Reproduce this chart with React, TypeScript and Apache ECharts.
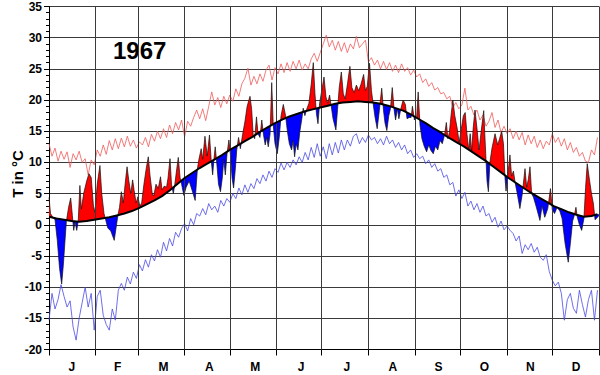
import React, { useEffect, useRef } from "react";
import * as echarts from "echarts";

const FONT = "'Liberation Sans', Arial, Helvetica, sans-serif";

const title = "1967";
const yName = "T in °C";
const monthLabels = ["J", "F", "M", "A", "M", "J", "J", "A", "S", "O", "N", "D"];
const monthStartDays = [0, 31, 59, 90, 120, 151, 181, 212, 243, 273, 304, 334, 365];
const yMin = -20;
const yMax = 35;
const yStep = 5;

// long-term daily mean (black line), read every 5 days
const normalDays = [0, 5, 10, 15, 20, 25, 30, 35, 40, 45, 50, 55, 60, 65, 70, 75, 80, 85, 90, 95,
  100, 105, 110, 115, 120, 125, 130, 135, 140, 145, 150, 155, 160, 165, 170, 175, 180, 185, 190, 195,
  200, 205, 210, 215, 220, 225, 230, 235, 240, 245, 250, 255, 260, 265, 270, 275, 280, 285, 290, 295,
  300, 305, 310, 315, 320, 325, 330, 335, 340, 345, 350, 355, 360, 364];
const normalTemp = [1.3, 1.0, 0.8, 0.6, 0.5, 0.6, 0.8, 1.0, 1.2, 1.5, 1.8, 2.2, 2.7, 3.3, 3.9, 4.6, 5.5, 6.5, 7.5, 8.3,
  9.1, 9.8, 10.5, 11.2, 12.0, 12.7, 13.4, 14.1, 14.9, 15.6, 16.3, 16.9, 17.4, 17.8, 18.2, 18.5, 18.8, 19.1, 19.4, 19.6,
  19.7, 19.8, 19.7, 19.6, 19.4, 19.1, 18.7, 18.3, 17.7, 17.0, 16.3, 15.5, 14.8, 14.0, 13.3, 12.6, 11.8, 11.0, 10.2, 9.3,
  8.4, 7.5, 6.7, 5.9, 5.1, 4.4, 3.7, 3.0, 2.5, 2.0, 1.6, 1.3, 1.4, 1.7];

// observed 1967 daily mean temperature, [day of year, °C]
const observed: [number, number][] = [
  [0, 4.4], [1, 1.8], [2.5, 1.2], [4, 0.8], [5.5, -2.5], [7, -7.0], [8.4, -9.5], [9.5, -6.5], [10.5, -3.0], [11.5, 0.5],
  [13, 2.8], [14.4, 4.3], [15.5, 1.5], [16.4, -0.9], [17.3, 0.5], [18.4, -0.9], [19.4, 0.6], [20.5, 6.3], [21.5, 2.5], [23, 5.0],
  [25, 7.0], [26.5, 8.2], [28, 7.6], [29.5, 3.0], [30.5, 2.0], [32, 6.5], [33.8, 9.5], [35, 5.0], [36.5, 1.8], [37.5, 0.9],
  [39, -0.5], [41, -1.0], [43.3, -2.5], [44.5, -0.5], [45.8, 1.6], [46.8, 2.8], [48, 5.3], [49.3, 3.5], [50.5, 6.5], [51.8, 9.3],
  [53, 7.0], [54.3, 5.0], [55.5, 7.2], [56.5, 5.5], [57.8, 3.5], [59, 4.5], [60.3, 3.0], [61.5, 3.5], [63, 6.5], [64.5, 9.0],
  [65.9, 10.9], [67, 8.0], [68.5, 5.0], [69.5, 4.6], [71, 6.5], [72.5, 5.8], [74, 7.7], [75, 5.6], [76.5, 6.2], [78, 6.0],
  [79, 7.5], [80.3, 10.6], [81.3, 6.5], [82.5, 5.0], [83.5, 6.5], [84.8, 9.0], [85.8, 10.8], [87, 7.5], [88, 6.5], [89.5, 4.7],
  [91, 6.0], [93, 7.0], [95, 5.5], [97, 3.9], [98.5, 9.0], [99.5, 10.5], [101, 12.2], [102, 10.5], [103.5, 14.2], [105, 11.0],
  [106.5, 14.4], [107.6, 10.5], [108.6, 8.0], [109.5, 10.6], [110.3, 12.5], [111.3, 10.0], [112.5, 6.5], [113.8, 5.3], [115, 7.5], [116, 10.5],
  [117, 8.0], [118.2, 11.5], [119.4, 13.6], [120.5, 11.0], [121.5, 7.5], [122.5, 5.9], [123.5, 8.5], [124.6, 12.0], [125.8, 14.0], [127, 12.2],
  [128.5, 14.5], [130, 16.5], [131.5, 19.0], [133.4, 20.6], [134.5, 18.5], [135.5, 14.4], [136.5, 13.8], [137.7, 17.3], [138.7, 14.6], [140, 14.0],
  [141.2, 16.8], [142.3, 14.5], [143.5, 12.8], [144.5, 14.0], [145.5, 12.5], [146.7, 14.5], [147.8, 22.8], [148.8, 16.0], [150, 13.0], [151.5, 11.4],
  [152.8, 14.0], [154, 17.5], [155.5, 19.3], [157, 17.5], [158.2, 15.0], [159.5, 13.0], [161, 12.0], [162, 13.5], [163, 10.9], [164, 13.0],
  [165.2, 12.0], [166.5, 15.0], [167.8, 17.0], [168.7, 18.7], [169.8, 17.5], [171, 18.5], [172.5, 19.5], [174, 22.5], [175.4, 26.0], [176.5, 21.0],
  [177.5, 17.8], [178.5, 16.2], [179.6, 19.5], [181, 21.5], [182.5, 23.7], [183.8, 20.5], [185, 19.5], [186.2, 20.8], [187.3, 19.0], [188.5, 17.0],
  [190.4, 15.2], [191.5, 18.5], [192.6, 22.0], [194, 24.5], [195.3, 21.0], [196.6, 20.2], [198.2, 22.8], [199.7, 25.4], [201, 22.0], [202.5, 21.2],
  [204, 22.4], [205.5, 21.5], [207, 22.5], [208.8, 24.1], [210, 21.5], [211.2, 22.2], [212.7, 25.9], [214, 21.5], [215, 19.6], [216.4, 17.2],
  [217.8, 15.4], [219.2, 18.3], [220.8, 21.9], [222, 18.3], [223, 16.3], [224.2, 15.1], [225.5, 17.5], [226.6, 18.6], [227.8, 22.0], [229, 18.5],
  [230, 16.8], [231.2, 18.6], [232.2, 17.0], [233.5, 18.6], [235, 20.0], [236.5, 19.3], [237.6, 17.0], [239, 17.2], [240.3, 17.2], [241.2, 19.0],
  [242.5, 16.8], [244, 17.3], [245, 21.3], [246.2, 16.0], [247.5, 13.8], [249, 12.6], [250.6, 11.7], [252, 12.8], [253.5, 11.9], [255, 11.4],
  [256.5, 12.6], [258, 12.0], [259.5, 13.5], [261, 13.0], [262.5, 14.4], [263.7, 16.4], [264.7, 13.8], [265.7, 14.8], [266.8, 17.5], [268, 20.0],
  [269.3, 17.5], [270.8, 15.6], [272.2, 13.2], [273.5, 15.2], [275, 17.5], [276.2, 18.0], [277.4, 14.5], [278.5, 12.0], [279.5, 14.6], [280.5, 11.8],
  [281.5, 15.5], [282.7, 18.4], [284, 15.5], [285.4, 12.0], [286.8, 15.0], [288.5, 18.3], [289.8, 11.5], [290.7, 7.0], [291.6, 5.3], [292.6, 10.0],
  [294, 12.3], [296, 14.6], [297.8, 12.8], [299, 13.8], [300.4, 15.0], [301.6, 13.0], [302.6, 7.6], [303.3, 5.4], [304.3, 7.6], [305.9, 11.2],
  [307, 7.8], [308.2, 8.6], [309.3, 6.8], [310.6, 5.2], [312.5, 2.6], [314, 4.8], [315.9, 9.0], [317, 6.0], [318.1, 7.3], [319.2, 9.3],
  [320.3, 5.0], [321.5, 4.4], [323.2, 3.0], [325.8, 0.7], [327.2, 3.0], [329, 1.2], [331, 2.6], [332.8, 5.8], [334, 2.4], [335.5, 1.8],
  [337.2, 2.8], [339, 2.2], [340.5, 1.0], [342.5, -3.0], [344.6, -6.0], [346, -3.0], [347.5, 0.6], [348.6, 1.5], [349.7, 2.8], [350.6, 1.2],
  [352, 0.0], [353.5, -0.9], [355, 1.0], [356.1, 6.0], [357.2, 9.8], [358.5, 7.5], [360, 5.0], [361.2, 3.5], [362.4, 0.8], [364, 1.2],
  [365, 1.5],
];

// thin red line (upper) and thin blue line (lower), one value every 2 days from day 0
const upperTemp = [
  13.0, 11.0, 12.3, 10.2, 11.8, 10.5, 11.7, 9.2, 11.4, 10.4,
  11.8, 10.0, 10.6, 8.0, 10.4, 9.6, 12.0, 11.0, 12.8, 11.3,
  13.5, 12.0, 13.8, 12.2, 13.9, 12.5, 14.2, 12.6, 13.6, 12.3,
  13.3, 12.8, 14.0, 12.5, 14.5, 13.4, 15.0, 13.8, 15.4, 14.0,
  16.0, 14.6, 16.4, 15.2, 16.8, 14.1, 16.6, 15.8, 17.2, 18.4,
  17.0, 18.6, 16.7, 19.0, 21.3, 19.2, 20.4, 18.8, 20.6, 19.4,
  20.8, 19.8, 21.8, 20.6, 22.6, 23.5, 25.1, 22.4, 23.8, 22.6,
  24.2, 23.0, 24.8, 25.6, 23.2, 25.2, 24.2, 25.8, 24.4, 26.0,
  24.6, 26.2, 25.0, 26.4, 24.8, 25.8, 25.0, 26.6, 27.5, 26.2,
  27.6, 29.0, 30.4, 28.5, 29.6, 28.0, 29.4, 27.8, 29.2, 27.6,
  29.0, 28.2, 30.2, 28.4, 29.0, 29.6, 26.1, 26.8, 25.6, 26.4,
  25.0, 26.2, 24.9, 26.0, 24.6, 25.6, 24.4, 25.8, 24.6, 25.2,
  24.0, 24.8, 23.7, 24.2, 22.8, 23.4, 22.2, 22.8, 21.6, 22.0,
  21.0, 21.2, 20.2, 20.6, 18.8, 19.6, 18.6, 19.2, 21.9, 18.4,
  19.0, 17.6, 18.4, 16.8, 17.6, 15.8, 16.6, 18.0, 15.6, 16.8,
  14.8, 15.8, 14.6, 15.4, 13.8, 15.0, 13.6, 14.8, 12.8, 14.4,
  13.0, 14.2, 12.4, 13.6, 12.2, 13.4, 12.8, 14.6, 13.2, 14.0,
  12.6, 13.8, 12.0, 13.2, 11.6, 12.4, 11.0, 11.6, 10.2, 10.0,
  12.0, 11.2, 14.0,
];
const lowerTemp = [
  -15.3, -11.0, -13.5, -12.0, -9.6, -11.5, -13.2, -12.2, -16.4, -18.5,
  -15.0, -12.5, -10.0, -13.2, -11.0, -16.9, -11.5, -10.5, -14.5, -16.0,
  -16.9, -13.5, -15.3, -10.5, -9.4, -10.5, -8.4, -9.5, -7.6, -8.6,
  -6.4, -7.4, -5.6, -6.8, -4.8, -5.8, -4.0, -5.2, -2.8, -4.2,
  -2.2, -3.4, -1.2, -2.0, -0.6, 0.2, -1.0, 1.0, 0.0, 1.8,
  1.4, 2.6, 1.6, 3.4, 2.4, 3.0, 2.0, 3.9, 3.0, 4.2,
  3.6, 5.0, 4.2, 5.9, 4.8, 6.4, 5.2, 6.6, 5.8, 7.4,
  6.6, 8.0, 7.0, 8.6, 7.6, 9.0, 8.4, 9.9, 8.8, 10.0,
  9.2, 10.4, 9.6, 10.9, 10.0, 11.6, 10.4, 12.4, 10.8, 13.0,
  11.0, 12.5, 10.6, 13.0, 11.2, 13.2, 11.5, 13.6, 12.0, 13.6,
  12.6, 14.2, 14.6, 13.0, 14.0, 13.2, 14.4, 13.6, 14.0, 13.0,
  13.8, 12.8, 14.2, 13.0, 13.6, 12.4, 13.2, 12.0, 12.8, 11.4,
  12.0, 10.8, 11.4, 10.6, 11.0, 9.8, 10.4, 9.2, 9.8, 8.6,
  9.0, 7.6, 8.0, 6.4, 6.8, 4.6, 5.6, 4.2, 5.2, 3.0,
  3.8, 2.4, 3.4, 2.0, 3.0, 1.4, 1.8, 0.4, 1.2, -0.4,
  0.6, -0.8, -0.2, -0.9, -1.4, -2.6, -1.8, -4.6, -3.2, -4.0,
  -3.0, -4.4, -3.6, -5.2, -5.7, -4.8, -7.5, -8.9, -9.8, -9.2,
  -11.0, -15.3, -12.0, -11.0, -13.4, -14.2, -10.5, -12.8, -14.8, -12.0,
  -10.5, -15.3, -10.5,
];
const extremeStep = 2;

function interp(xs: number[], ys: number[], x: number): number {
  const n = xs.length;
  if (x <= xs[0]) return ys[0];
  if (x >= xs[n - 1]) return ys[n - 1];
  let lo = 0;
  let hi = n - 1;
  while (hi - lo > 1) {
    const m = (lo + hi) >> 1;
    if (xs[m] <= x) lo = m;
    else hi = m;
  }
  const t = (x - xs[lo]) / (xs[hi] - xs[lo]);
  return ys[lo] + t * (ys[hi] - ys[lo]);
}

type P = { x: number; a: number; n: number };
type Run = { sign: number; pts: P[] };

function buildRuns(): Run[] {
  const ox = observed.map((p) => p[0]);
  const oy = observed.map((p) => p[1]);
  const xs = Array.from(new Set([...ox, ...normalDays])).sort((a, b) => a - b);
  const pts: P[] = xs.map((x) => ({ x, a: interp(ox, oy, x), n: interp(normalDays, normalTemp, x) }));
  const runs: Run[] = [];
  let cur: Run | null = null;
  for (let i = 0; i < pts.length; i++) {
    const p = pts[i];
    const d = p.a - p.n;
    const s = d >= 0 ? 1 : -1;
    if (!cur) {
      cur = { sign: s, pts: [p] };
      continue;
    }
    if (s !== cur.sign) {
      const q = pts[i - 1];
      const dq = q.a - q.n;
      const t = dq / (dq - d);
      const cx = q.x + t * (p.x - q.x);
      const cy = q.n + t * (p.n - q.n);
      const c = { x: cx, a: cy, n: cy };
      cur.pts.push(c);
      runs.push(cur);
      cur = { sign: s, pts: [c, p] };
    } else {
      cur.pts.push(p);
    }
  }
  if (cur) runs.push(cur);
  return runs;
}

export default function App() {
  const ref = useRef<HTMLDivElement>(null);
  useEffect(() => {
    if (!ref.current) return;
    const chart = echarts.init(ref.current, null, { renderer: "svg" });
    const runs = buildRuns();
    const gridColor = "#3a3a3a";
    chart.setOption({
      animation: false,
      backgroundColor: "#ffffff",
      grid: { left: 49, right: 1, top: 6.5, bottom: 25.5, containLabel: false },
      xAxis: [
        {
          type: "value",
          min: 0,
          max: 365,
          axisLine: { show: true, onZero: false, lineStyle: { color: "#000", width: 1 } },
          axisTick: { show: true, customValues: monthStartDays, length: 6, lineStyle: { color: "#000" } },
          axisLabel: { show: false },
          splitLine: { show: false },
        },
        {
          type: "category",
          data: monthLabels.map((m, i) => m + i),
          position: "bottom",
          boundaryGap: true,
          axisLine: { show: false },
          axisTick: { show: false },
          splitLine: { show: false },
          axisLabel: {
            interval: 0,
            margin: 11,
            color: "#000",
            fontSize: 12,
            fontWeight: "bold",
            fontFamily: FONT,
            formatter: (_v: string, idx: number) => monthLabels[idx],
          },
        },
      ],
      yAxis: {
        type: "value",
        min: yMin,
        max: yMax,
        interval: yStep,
        axisLine: { show: true, onZero: false, lineStyle: { color: "#000", width: 1 } },
        axisTick: { show: true, length: 5, lineStyle: { color: "#000" } },
        minorTick: { show: true, splitNumber: 5, length: 3, lineStyle: { color: "#000" } },
        minorSplitLine: { show: false },
        axisLabel: { margin: 7, color: "#000", fontSize: 12, fontWeight: "bold", fontFamily: FONT },
        splitLine: { show: true, lineStyle: { color: gridColor, width: 1 } },
      },
      graphic: [
        {
          type: "text",
          left: 113,
          top: 38,
          style: { text: title, font: `bold 24px ${FONT}`, fill: "#000" },
        },
        {
          type: "text",
          x: 17,
          y: 174,
          rotation: Math.PI / 2,
          style: { text: yName, font: `bold 15px ${FONT}`, fill: "#000", align: "center", verticalAlign: "middle" },
        },
      ],
      series: [
        {
          type: "line",
          name: "monthGrid",
          xAxisIndex: 0,
          z: 1,
          silent: true,
          showSymbol: false,
          lineStyle: { width: 0 },
          data: [[0, yMin]],
          markLine: {
            silent: true,
            symbol: ["none", "none"],
            label: { show: false },
            lineStyle: { color: gridColor, width: 1, type: "solid" },
            data: monthStartDays.slice(1).map((d) => ({ xAxis: d })),
          },
        },
        {
          type: "custom",
          name: "anomaly",
          xAxisIndex: 0,
          z: 2,
          silent: true,
          data: [[0, 0]],
          renderItem: (_params: any, api: any) => {
            const children = runs.map((r) => {
              const top = r.pts.map((p) => api.coord([p.x, p.a]));
              const bot = r.pts.slice().reverse().map((p) => api.coord([p.x, p.n]));
              return {
                type: "polygon",
                shape: { points: top.concat(bot) },
                style: { fill: r.sign > 0 ? "#ff0000" : "#0000ff", lineWidth: 0 },
              };
            });
            return { type: "group", children };
          },
        },
        {
          type: "line",
          name: "upper",
          xAxisIndex: 0,
          z: 3,
          silent: true,
          showSymbol: false,
          lineStyle: { color: "#f05a5a", width: 0.8 },
          data: upperTemp.map((v, i) => [i * extremeStep, v]),
        },
        {
          type: "line",
          name: "lower",
          xAxisIndex: 0,
          z: 3,
          silent: true,
          showSymbol: false,
          lineStyle: { color: "#4a4ae6", width: 0.8 },
          data: lowerTemp.map((v, i) => [i * extremeStep, v]),
        },
        {
          type: "line",
          name: "observed",
          xAxisIndex: 0,
          z: 4,
          silent: true,
          showSymbol: false,
          lineStyle: { color: "#111", width: 0.7 },
          data: observed,
        },
        {
          type: "line",
          name: "normal",
          xAxisIndex: 0,
          z: 5,
          silent: true,
          showSymbol: false,
          lineStyle: { color: "#000", width: 2 },
          data: normalDays.map((d, i) => [d, normalTemp[i]]),
        },
      ],
    });
    return () => chart.dispose();
  }, []);
  return (
    <div
      ref={ref}
      style={{ position: "fixed", left: 0, top: 0, width: 600, height: 375, background: "#fff" }}
    />
  );
}
